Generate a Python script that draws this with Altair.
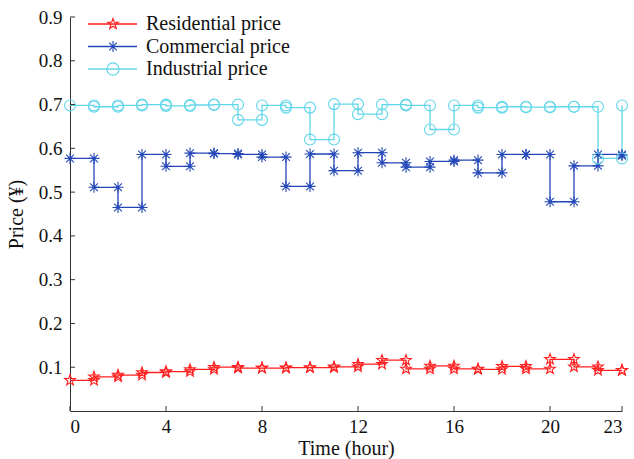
import math
import altair as alt
import pandas as pd

# Hourly tariffs (hour 0..23), drawn as stairs
hours = list(range(24))
residential = [0.070, 0.078, 0.082, 0.088, 0.090, 0.095, 0.100, 0.098, 0.098, 0.099,
               0.099, 0.101, 0.107, 0.116, 0.096, 0.103, 0.096, 0.095, 0.102, 0.096,
               0.118, 0.101, 0.093, 0.093]
commercial = [0.577, 0.511, 0.465, 0.586, 0.559, 0.589, 0.588, 0.586, 0.580, 0.513,
              0.587, 0.549, 0.590, 0.567, 0.557, 0.570, 0.573, 0.544, 0.586, 0.586,
              0.478, 0.560, 0.586, 0.583]
industrial = [0.698, 0.695, 0.698, 0.700, 0.697, 0.699, 0.700, 0.665, 0.698, 0.693,
              0.620, 0.701, 0.678, 0.700, 0.698, 0.643, 0.698, 0.693, 0.695, 0.694,
              0.695, 0.695, 0.577, 0.698]

names = ["Residential price", "Commercial price", "Industrial price"]
colors = ["#ff1f1f", "#2347b8", "#62d6ea"]
x_ticks = [0, 4, 8, 12, 16, 20, 23]
y_ticks = [0.1, 0.2, 0.3, 0.4, 0.5, 0.6, 0.7, 0.8, 0.9]

FONT = "Liberation Serif"


def star_path():
    pts = []
    for k in range(10):
        r = 1.0 if k % 2 == 0 else 0.40
        a = math.radians(-90 + 36 * k)
        pts.append(f"{r * math.cos(a):.3f},{r * math.sin(a):.3f}")
    return "M" + "L".join(pts) + "Z"


ASTERISK = "M0,-1L0,1M-1,0L1,0M-0.7,-0.7L0.7,0.7M-0.7,0.7L0.7,-0.7"
shapes = [star_path(), ASTERISK, "circle"]
sizes = [125, 120, 150]


def stairs(values, name):
    rows = []
    for i in range(len(hours) - 1):
        rows.append({"series": name, "t": hours[i], "price": values[i]})
        rows.append({"series": name, "t": hours[i + 1], "price": values[i]})
    rows.append({"series": name, "t": hours[-1], "price": values[-1]})
    for j, r in enumerate(rows):
        r["order"] = j
    return rows


df = pd.DataFrame(stairs(residential, names[0]) + stairs(commercial, names[1])
                  + stairs(industrial, names[2]))

W, H = 552, 394

x_enc = alt.X("t:Q", scale=alt.Scale(domain=[0, 23], nice=False),
              axis=alt.Axis(values=x_ticks, title="Time (hour)", format="d"))
y_enc = alt.Y("price:Q", scale=alt.Scale(domain=[0, 0.9], nice=False),
              axis=alt.Axis(values=y_ticks, title="Price (¥)", format=".1f"))
color_enc = alt.Color("series:N", scale=alt.Scale(domain=names, range=colors), legend=None)

lines = alt.Chart(df).mark_line(strokeWidth=1.3).encode(
    x=x_enc, y=y_enc, color=color_enc, detail="series:N", order="order:Q"
)
points = alt.Chart(df).mark_point(filled=False, strokeWidth=1.1, opacity=1).encode(
    x="t:Q", y="price:Q", color=color_enc,
    shape=alt.Shape("series:N", scale=alt.Scale(domain=names, range=shapes), legend=None),
    size=alt.Size("series:N", scale=alt.Scale(domain=names, range=sizes), legend=None),
)

# inward tick marks
xt = alt.Chart(pd.DataFrame({"t": x_ticks})).mark_rule(color="#333333", strokeWidth=1).encode(
    x="t:Q", y=alt.value(H), y2=alt.value(H - 5)
)
yt = alt.Chart(pd.DataFrame({"price": y_ticks})).mark_rule(color="#333333", strokeWidth=1).encode(
    y="price:Q", x=alt.value(0), x2=alt.value(5)
)

# legend entries
legend_layers = []
for i, (name, col, shp, sz) in enumerate(zip(names, colors, shapes, sizes)):
    yy = 7 + 22.5 * i
    one = pd.DataFrame({"series": [name]})
    legend_layers.append(alt.Chart(one).mark_rule(color=col, strokeWidth=1.3).encode(
        x=alt.value(18), x2=alt.value(67), y=alt.value(yy)))
    legend_layers.append(alt.Chart(one).mark_point(
        filled=False, shape=shp, size=sz, color=col, strokeWidth=1.1, opacity=1).encode(
        x=alt.value(43), y=alt.value(yy)))
    legend_layers.append(alt.Chart(one).mark_text(
        align="left", baseline="middle", font=FONT, fontSize=20, color="#111111").encode(
        x=alt.value(76), y=alt.value(yy), text="series:N"))

chart = alt.layer(lines, points, xt, yt, *legend_layers).properties(
    width=W, height=H,
    autosize=alt.AutoSizeParams(type="none"),
    padding={"left": 70, "top": 17, "right": 12, "bottom": 48},
).configure_view(strokeWidth=0).configure_axis(
    grid=False, ticks=False, domainColor="#333333", domainWidth=1,
    labelFont=FONT, labelFontSize=19, labelColor="#111111",
    titleFont=FONT, titleFontSize=20, titleFontWeight="normal", titleColor="#111111",
).configure_axisX(labelPadding=6, titleY=27, titleBaseline="top").configure_axisY(
    labelPadding=8, titlePadding=12)

chart.save("out.html", embed_options={"renderer": "svg", "actions": False})
